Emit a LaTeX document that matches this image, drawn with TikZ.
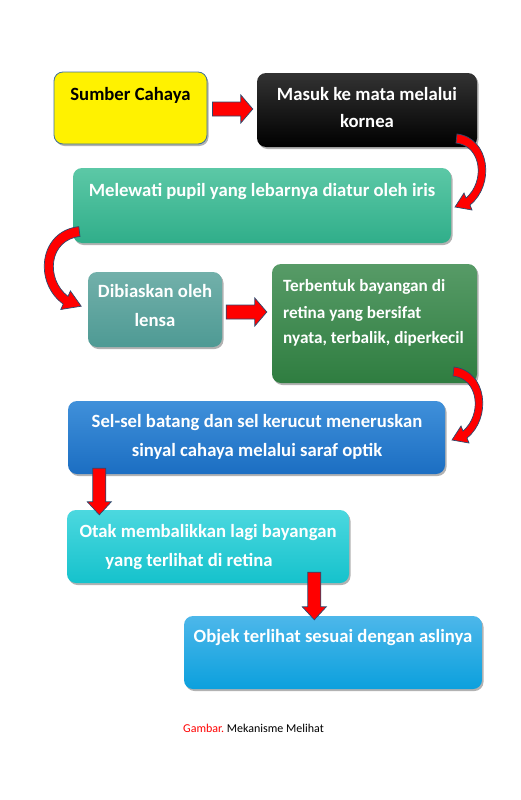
\documentclass[tikz,border=0pt]{standalone}
\usepackage{fontspec}
\setmainfont{Carlito}
\usetikzlibrary{shadows,calc}
\definecolor{boxline}{HTML}{41719C}
\definecolor{arrline}{HTML}{2B4A6F}
\definecolor{arrred}{HTML}{FF0000}
\definecolor{greenA}{HTML}{5CC8A6}\definecolor{greenB}{HTML}{30AE8A}
\definecolor{tealA}{HTML}{72B0AA}\definecolor{tealB}{HTML}{4E9A94}
\definecolor{dgreenA}{HTML}{579B67}\definecolor{dgreenB}{HTML}{2F7D40}
\definecolor{blueA}{HTML}{4090DA}\definecolor{blueB}{HTML}{1B6EC2}
\definecolor{cyanA}{HTML}{4CD8DF}\definecolor{cyanB}{HTML}{15C2CC}
\definecolor{skyA}{HTML}{4DB7EA}\definecolor{skyB}{HTML}{0BA0DD}
\newcommand\hblockarrow[2]{%
  \path[blockarrow] let \p1=(#1), \p2=(#2) in
    (\x1,\y1+7pt) -- (\x2-12pt,\y1+7pt) -- (\x2-12pt,\y1+14pt) -- (\x2,\y1)
    -- (\x2-12pt,\y1-14pt) -- (\x2-12pt,\y1-7pt) -- (\x1,\y1-7pt) -- cycle;}
\newcommand\vblockarrow[2]{%
  \path[blockarrow] let \p1=(#1), \p2=(#2) in
    (\x1-6.5pt,\y1) -- (\x1-6.5pt,\y2+13pt) -- (\x1-12pt,\y2+13pt) -- (\x1,\y2)
    -- (\x1+12pt,\y2+13pt) -- (\x1+6.5pt,\y2+13pt) -- (\x1+6.5pt,\y1) -- cycle;}
\newcommand\curvedarrowpath{%
  \path[blockarrow] (1,-4) .. controls (34,0) and (39,47) .. (14,67) -- (16,72)
    -- (-1,69) -- (8,55) -- (10,60) .. controls (29,44) and (26,8) .. (0,5) -- cycle;}
\begin{document}
\begin{tikzpicture}[x=1pt,y=-1pt,
  box/.style={rounded corners=9pt, inner sep=0pt,
    drop shadow={shadow xshift=1.5pt,shadow yshift=-2pt,opacity=0.3,fill=black}},
  txt/.style={font=\bfseries\fontsize{18.7}{22}\selectfont, text=white, inner sep=0pt, anchor=mid},
  smalltxt/.style={txt, font=\bfseries\fontsize{17.2}{20}\selectfont, anchor=mid west},
  blockarrow/.style={fill=arrred, draw=arrline, line width=0.7pt, line join=miter}]
\useasboundingbox[fill=white] (0,0) rectangle (520,800);
% boxes
\node[box, draw=boxline, line width=0.8pt, fill=yellow, minimum width=153pt, minimum height=72pt] (sumber) at (130.5,108) {};
\node[box, top color=black!80, bottom color=black, minimum width=220pt, minimum height=74pt] (masuk) at (367,110) {};
\node[box, top color=greenA, bottom color=greenB, minimum width=378pt, minimum height=75pt] (melewati) at (262,205.5) {};
\node[box, top color=tealA, bottom color=tealB, minimum width=134pt, minimum height=75pt] (dibias) at (155,309.5) {};
\node[box, top color=dgreenA, bottom color=dgreenB, minimum width=205pt, minimum height=119pt] (terbentuk) at (374.5,323.5) {};
\node[box, top color=blueA, bottom color=blueB, minimum width=377pt, minimum height=73pt] (selsel) at (256.5,437.5) {};
\node[box, top color=cyanA, bottom color=cyanB, minimum width=282pt, minimum height=73pt] (otak) at (208,546.5) {};
\node[box, top color=skyA, bottom color=skyB, minimum width=298pt, minimum height=73pt] (objek) at (333,652.5) {};
% texts
\node[txt, text=black] (t1) at (130.5,98) {Sumber Cahaya};
\node[txt] (t2a) at (367,98) {Masuk ke mata melalui};
\node[txt] (t2b) at (367,125) {kornea};
\node[txt] (t3) at (262,194) {Melewati pupil yang lebarnya diatur oleh iris};
\node[txt] (t4a) at (155,295) {Dibiaskan oleh};
\node[txt] (t4b) at (155,324) {lensa};
\node[smalltxt] (t5a) at (283,289) {Terbentuk bayangan di};
\node[smalltxt] (t5b) at (283,316) {retina yang bersifat};
\node[smalltxt] (t5c) at (283,341) {nyata, terbalik, diperkecil};
\node[txt] (t6a) at (257,425) {Sel-sel batang dan sel kerucut meneruskan};
\node[txt] (t6b) at (257,454) {sinyal cahaya melalui saraf optik};
\node[txt] (t7a) at (208,535) {Otak membalikkan lagi bayangan};
\node[txt] (t7b) at (189,564) {yang terlihat di retina};
\node[txt] (t8) at (333,640) {Objek terlihat sesuai dengan aslinya};
\node[anchor=base west, inner sep=0pt, font=\fontsize{12}{14}\selectfont] (cap) at (183,732) {\textcolor{red}{Gambar.}\ Mekanisme Melihat};
% straight block arrows
\coordinate (a1s) at ($(sumber.east)+(5,1)$);
\coordinate (a1e) at ($(masuk.west)+(-4,-1)$);
\hblockarrow{a1s}{a1e}
\coordinate (a2s) at ($(dibias.east)+(4,2.5)$);
\coordinate (a2e) at ($(terbentuk.west)+(-5,-11.5)$);
\hblockarrow{a2s}{a2e}
\coordinate (a3s) at ($(selsel.south west)+(31.5,-6)$);
\coordinate (a3e) at ($(otak.north west)+(32.5,5)$);
\vblockarrow{a3s}{a3e}
\coordinate (a4s) at ($(otak.south west)+(247.5,-11)$);
\coordinate (a4e) at ($(objek.north west)+(130.5,4)$);
\vblockarrow{a4s}{a4e}
% curved arrows
\begin{scope}[shift={(456,138)}]\curvedarrowpath\end{scope}
\begin{scope}[shift={(80,231)}, xscale=-1.2, yscale=1.09]\curvedarrowpath\end{scope}
\begin{scope}[shift={(453,371)}]\curvedarrowpath\end{scope}
\end{tikzpicture}
\end{document}
